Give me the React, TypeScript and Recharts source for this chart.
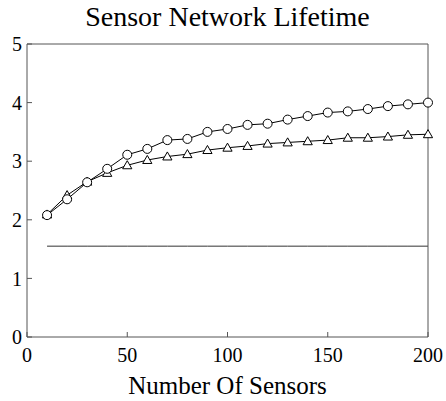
import { LineChart, Line, XAxis, YAxis } from "recharts";

const SENSORS = [10, 20, 30, 40, 50, 60, 70, 80, 90, 100, 110, 120, 130, 140, 150, 160, 170, 180, 190, 200];
const CIRCLE_SERIES = [2.08, 2.35, 2.64, 2.87, 3.11, 3.21, 3.36, 3.38, 3.5, 3.55, 3.62, 3.64, 3.71, 3.77, 3.83, 3.85, 3.89, 3.94, 3.97, 4.0];
const TRIANGLE_SERIES = [2.09, 2.42, 2.65, 2.8, 2.93, 3.02, 3.08, 3.12, 3.19, 3.23, 3.26, 3.3, 3.32, 3.34, 3.36, 3.4, 3.4, 3.42, 3.45, 3.46];
const FLAT_SERIES = [1.55, 1.55, 1.55, 1.55, 1.55, 1.55, 1.55, 1.55, 1.55, 1.55, 1.55, 1.55, 1.55, 1.55, 1.55, 1.55, 1.55, 1.55, 1.55, 1.55];
const X_TICKS = [0, 50, 100, 150, 200];
const Y_TICKS = [0, 1, 2, 3, 4, 5];

const FONT = "'Liberation Serif', 'Times New Roman', serif";
const AXIS = "#555";

const data = SENSORS.map((n, i) => ({
  n,
  circle: CIRCLE_SERIES[i],
  triangle: TRIANGLE_SERIES[i],
  flat: FLAT_SERIES[i],
}));

// eslint-disable-next-line @typescript-eslint/no-explicit-any
const Triangle = (p: any) => {
  const { cx, cy } = p;
  if (cx == null || cy == null) return <g />;
  const s = 4.6;
  return (
    <path
      d={`M${cx},${cy - s} L${cx + s},${cy + s * 0.75} L${cx - s},${cy + s * 0.75} Z`}
      fill="#fff"
      stroke="#000"
      strokeWidth={1}
    />
  );
};

const tickStyle = { fontSize: 20, fill: "#000", fontFamily: FONT };

export default function App() {
  return (
    <div style={{ position: "absolute", left: 0, top: 0, width: 446, height: 401, background: "#fff", fontFamily: FONT }}>
      <style>{`.recharts-wrapper text, .recharts-text { font-family: ${FONT}; }`}</style>
      <div style={{ position: "absolute", left: 27, width: 401, top: 0, textAlign: "center", fontSize: 28, lineHeight: "34px", color: "#000", whiteSpace: "nowrap" }}>
        Sensor Network Lifetime
      </div>
      <LineChart width={446} height={401} data={data} margin={{ top: 43, right: 17, bottom: 0, left: 0 }}>
        <XAxis
          dataKey="n"
          type="number"
          domain={[0, 200]}
          ticks={X_TICKS}
          height={64}
          tickSize={-5}
          tickMargin={16}
          stroke={AXIS}
          tick={tickStyle}
          interval={0}
          label={{ value: "Number Of Sensors", position: "insideBottom", offset: 7, fontSize: 25, fill: "#000", fontFamily: FONT }}
        />
        <XAxis
          xAxisId="top"
          orientation="top"
          dataKey="n"
          type="number"
          domain={[0, 200]}
          ticks={X_TICKS}
          height={1}
          tickSize={-5}
          tick={false}
          stroke={AXIS}
        />
        <YAxis
          type="number"
          domain={[0, 5]}
          ticks={Y_TICKS}
          width={27}
          tickSize={-5}
          tickMargin={10}
          stroke={AXIS}
          tick={tickStyle}
          interval={0}
        />
        <YAxis
          yAxisId="right"
          orientation="right"
          type="number"
          domain={[0, 5]}
          ticks={Y_TICKS}
          width={1}
          tickSize={-5}
          tick={false}
          stroke={AXIS}
        />
        <Line dataKey="flat" stroke="#333" strokeWidth={1} dot={false} isAnimationActive={false} />
        <Line dataKey="triangle" stroke="#000" strokeWidth={1} dot={<Triangle />} isAnimationActive={false} />
        <Line dataKey="circle" stroke="#000" strokeWidth={1} dot={{ r: 4.5, fill: "#fff", stroke: "#000", strokeWidth: 1 }} isAnimationActive={false} />
      </LineChart>
    </div>
  );
}
